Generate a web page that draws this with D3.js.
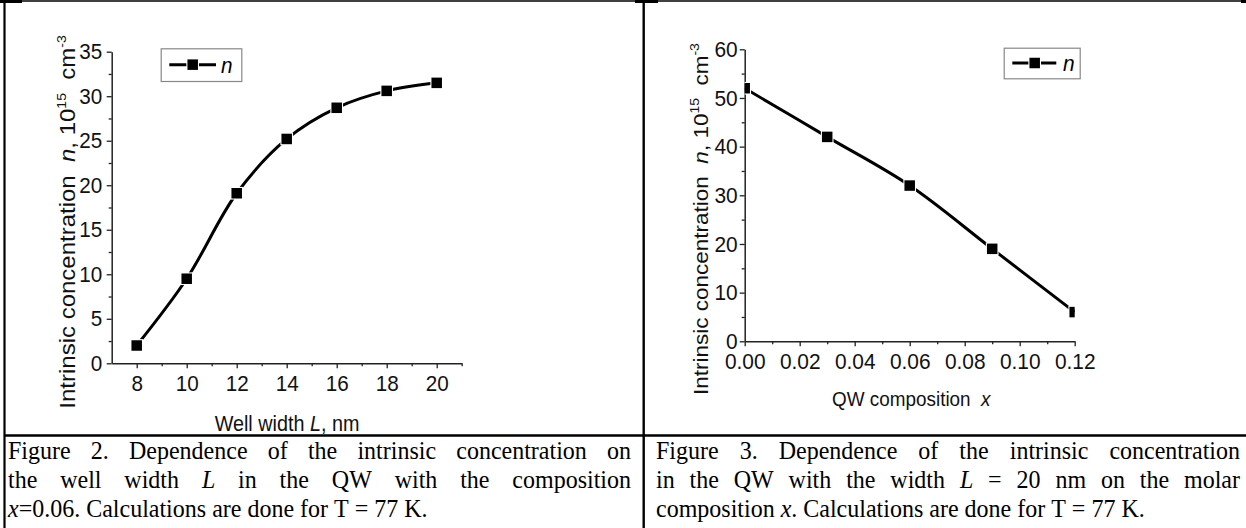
<!DOCTYPE html>
<html>
<head>
<meta charset="utf-8">
<script src="https://cdn.jsdelivr.net/npm/d3@7/dist/d3.min.js"></script>
<style>
  html, body { margin: 0; padding: 0; background: #fff; }
  svg { display: block; }
</style>
</head>
<body>
<script>
// ---------------- DATA ----------------
const wellWidth = [8, 10, 12, 14, 16, 18, 20];
const nVsWidth = [2.0, 9.5, 19.1, 25.2, 28.7, 30.6, 31.5];

const composition = [0.00, 0.03, 0.06, 0.09, 0.12];
const nVsComposition = [52, 42, 32, 19, 6];

const leftXTicks = [8, 10, 12, 14, 16, 18, 20];
const leftXMinor = [9, 11, 13, 15, 17, 19, 21];
const leftYTicks = [0, 5, 10, 15, 20, 25, 30, 35];
const leftYMinor = [2.5, 7.5, 12.5, 17.5, 22.5, 27.5, 32.5];

const rightXTicks = [0, 0.02, 0.04, 0.06, 0.08, 0.10, 0.12];
const rightXMinor = [0.01, 0.03, 0.05, 0.07, 0.09, 0.11];
const rightYTicks = [0, 10, 20, 30, 40, 50, 60];
const rightYMinor = [5, 15, 25, 35, 45, 55];

const seriesName = "n";
const leftXLabel = [["Well width ", false], ["L", true], [", nm", false]];
const rightXLabel = [["QW composition  ", false], ["x", true]];

const leftCaption = [
  "Figure 2. Dependence of the intrinsic concentration on",
  "the well width *L* in the QW with the composition",
  "*x*=0.06. Calculations are done for T = 77 K."
];
const rightCaption = [
  "Figure 3. Dependence of the intrinsic concentration",
  "in the QW with the width *L* = 20 nm on the molar",
  "composition *x*. Calculations are done for T = 77 K."
];

// ---------------- SVG ----------------
const W = 1246, H = 528;
const svg = d3.select("body").append("svg").attr("width", W).attr("height", H);
svg.append("rect").attr("width", W).attr("height", H).attr("fill", "#fff");

const chartFont = "'Liberation Sans', Arial, sans-serif";
const serifFont = "'Liberation Serif', 'Times New Roman', serif";

function drawPanel(cfg) {
  const x = d3.scaleLinear().domain(cfg.xDomain).range(cfg.xRange);
  const y = d3.scaleLinear().domain(cfg.yDomain).range(cfg.yRange);
  const g = svg.append("g");
  const fs = cfg.fontSize, sx = cfg.sx;

  const clipId = "clip" + cfg.id;
  svg.append("clipPath").attr("id", clipId).append("rect")
    .attr("x", cfg.xRange[0]).attr("y", cfg.yRange[1] - 8)
    .attr("width", cfg.xRange[1] - cfg.xRange[0])
    .attr("height", cfg.yRange[0] - cfg.yRange[1] + 8);

  // minor ticks
  const xMinorAxis = d3.axisBottom(x).tickValues(cfg.xMinor).tickSize(3).tickFormat("").tickSizeOuter(0);
  const yMinorAxis = d3.axisLeft(y).tickValues(cfg.yMinor).tickSize(3).tickFormat("").tickSizeOuter(0);
  g.append("g").attr("transform", `translate(0,${cfg.yRange[0]})`).call(xMinorAxis)
    .call(s => s.select(".domain").remove());
  g.append("g").attr("transform", `translate(${cfg.xRange[0]},0)`).call(yMinorAxis)
    .call(s => s.select(".domain").remove());

  // major axes
  const xAxis = d3.axisBottom(x).tickValues(cfg.xTicks).tickSize(5).tickPadding(cfg.xPad)
    .tickSizeOuter(0).tickFormat(cfg.xFormat);
  const yAxis = d3.axisLeft(y).tickValues(cfg.yTicks).tickSize(5).tickPadding(cfg.yPad)
    .tickSizeOuter(0).tickFormat(d3.format("d"));
  const gx = g.append("g").attr("transform", `translate(0,${cfg.yRange[0]})`).call(xAxis);
  const gy = g.append("g").attr("transform", `translate(${cfg.xRange[0]},0)`).call(yAxis);

  g.selectAll("path.domain").attr("stroke", "#222").attr("stroke-width", 1.5);
  g.selectAll(".tick line").attr("stroke", "#222").attr("stroke-width", 1.3);
  g.selectAll(".tick text").attr("fill", "#111")
    .style("font-family", chartFont).style("font-size", fs + "px");
  gx.selectAll(".tick text").attr("transform", `scale(${sx},1)`);
  gy.selectAll(".tick text").attr("x", 0)
    .attr("transform", `translate(${-(5 + cfg.yPad)},0) scale(${sx},1)`);

  // line + markers
  const line = d3.line().x((d, i) => x(cfg.xs[i])).y(d => y(d)).curve(d3.curveCatmullRom.alpha(0.5));
  const plot = g.append("g").attr("clip-path", `url(#${clipId})`);
  plot.append("path").datum(cfg.ys).attr("d", line)
    .attr("fill", "none").attr("stroke", "#000").attr("stroke-width", 3);
  const ms = 10.5;
  plot.selectAll("rect.m").data(cfg.ys).enter().append("rect")
    .attr("x", (d, i) => x(cfg.xs[i]) - ms / 2).attr("y", d => y(d) - ms / 2)
    .attr("width", ms).attr("height", ms)
    .attr("fill", "#000").attr("stroke", "#fff").attr("stroke-width", 2.2)
    .attr("paint-order", "stroke");

  // legend
  const L = cfg.legend;
  g.append("rect").attr("x", L.x0 + 0.5).attr("y", L.y0 + 0.5)
    .attr("width", L.x1 - L.x0).attr("height", L.y1 - L.y0)
    .attr("fill", "#fff").attr("stroke", "#888").attr("stroke-width", 1.2);
  const ly = (L.y0 + L.y1) / 2;
  g.append("line").attr("x1", L.lx0).attr("x2", L.lx1).attr("y1", ly).attr("y2", ly)
    .attr("stroke", "#000").attr("stroke-width", 3);
  g.append("rect").attr("x", L.mx - ms / 2).attr("y", ly - ms / 2).attr("width", ms).attr("height", ms)
    .attr("fill", "#000").attr("stroke", "#fff").attr("stroke-width", 2.2).attr("paint-order", "stroke");
  g.append("text").attr("transform", `translate(${L.tx},${L.ty}) scale(${sx},1)`).text(seriesName)
    .style("font-family", chartFont).style("font-size", fs + "px").style("font-style", "italic");

  // x label
  const xl = g.append("text")
    .attr("transform", `translate(${cfg.xLabelPos[0]},${cfg.xLabelPos[1]}) scale(${cfg.xLabelSx},1)`)
    .attr("text-anchor", "middle").attr("xml:space", "preserve")
    .style("font-family", chartFont).style("font-size", cfg.xLabelSize + "px").attr("fill", "#111");
  cfg.xLabel.forEach(([s, it]) => xl.append("tspan").text(s).style("font-style", it ? "italic" : "normal"));

  // y label
  const yl = g.append("text")
    .attr("transform", `translate(${cfg.yLabelPos[0]},${cfg.yLabelPos[1]}) rotate(-90) scale(1,0.92)`)
    .attr("text-anchor", "middle").attr("xml:space", "preserve")
    .style("font-family", chartFont).style("font-size", cfg.yLabelSize + "px").attr("fill", "#111");
  const sup = Math.round(cfg.yLabelSize * 0.6);
  const sh = cfg.yLabelSize * 0.42;
  yl.append("tspan").text("Intrinsic concentration  ");
  yl.append("tspan").text("n").style("font-style", "italic");
  yl.append("tspan").text(", 10");
  yl.append("tspan").text("15").attr("dy", -sh).style("font-size", sup + "px");
  yl.append("tspan").text("  cm").attr("dy", sh);
  yl.append("tspan").text("-3").attr("dy", -sh).style("font-size", sup + "px");
}

drawPanel({
  id: "L",
  xDomain: [7, 21], xRange: [111.7, 461.7],
  yDomain: [0, 35], yRange: [363.3, 51.7],
  xTicks: leftXTicks, xMinor: leftXMinor, yTicks: leftYTicks, yMinor: leftYMinor,
  xFormat: d3.format("d"), xPad: 7, yPad: 4.5,
  xs: wellWidth, ys: nVsWidth,
  fontSize: 22.5, sx: 0.92,
  legend: { x0: 160.7, x1: 241.3, y0: 48.3, y1: 81, lx0: 169.3, lx1: 216, mx: 192.7, tx: 221, ty: 72.5 },
  xLabel: leftXLabel, xLabelPos: [287, 431], xLabelSize: 22, xLabelSx: 0.9,
  yLabelPos: [75, 222], yLabelSize: 24
});

drawPanel({
  id: "R",
  xDomain: [0, 0.12], xRange: [744.7, 1074.7],
  yDomain: [0, 60], yRange: [341.3, 49.3],
  xTicks: rightXTicks, xMinor: rightXMinor, yTicks: rightYTicks, yMinor: rightYMinor,
  xFormat: d3.format(".2f"), xPad: 7, yPad: 2,
  xs: composition, ys: nVsComposition,
  fontSize: 22, sx: 0.95,
  legend: { x0: 1003.7, x1: 1079.7, y0: 47.7, y1: 78.3, lx0: 1012.3, lx1: 1056.3, mx: 1034.7, tx: 1063, ty: 70.5 },
  xLabel: rightXLabel, xLabelPos: [911.3, 405.5], xLabelSize: 21, xLabelSx: 0.9,
  yLabelPos: [708, 219], yLabelSize: 22.5
});

// ---------------- captions ----------------
const capFs = 25, capSx = 0.96;
const capG = svg.append("g").attr("transform", `scale(${capSx},1)`);
function caption(lines, x0, x1, baselines) {
  lines.forEach((line, i) => {
    const words = line.split(" ");
    const nodes = words.map(w => {
      const t = capG.append("text").attr("y", baselines[i])
        .style("font-family", serifFont).style("font-size", capFs + "px").attr("fill", "#000");
      const parts = w.split("*");
      parts.forEach((p, k) => { if (p.length) t.append("tspan").text(p).style("font-style", k % 2 ? "italic" : "normal"); });
      return t;
    });
    const widths = nodes.map(n => n.node().getComputedTextLength() * capSx);
    const total = d3.sum(widths);
    const justify = i < lines.length - 1;
    const gap = justify ? (x1 - x0 - total) / (words.length - 1) : capFs * 0.25 * capSx;
    let cx = x0;
    nodes.forEach((n, k) => { n.attr("x", cx / capSx); cx += widths[k] + gap; });
  });
}
caption(leftCaption, 8, 631, [459, 488.5, 517.5]);
caption(rightCaption, 656, 1240, [459, 488.5, 517.5]);

// ---------------- table rules ----------------
const rules = svg.append("g").attr("stroke", "#000");
rules.append("line").attr("x1", 0).attr("x2", W).attr("y1", 1).attr("y2", 1).attr("stroke-width", 1.6);
rules.append("line").attr("x1", 4.5).attr("x2", 4.5).attr("y1", 0).attr("y2", H).attr("stroke-width", 2.2);
rules.append("line").attr("x1", 643.7).attr("x2", 643.7).attr("y1", 0).attr("y2", H).attr("stroke-width", 2.4);
rules.append("line").attr("x1", 4).attr("x2", W).attr("y1", 435.5).attr("y2", 435.5).attr("stroke-width", 2.4);
svg.append("rect").attr("x", 0).attr("y", 0).attr("width", 22).attr("height", 3).attr("fill", "#000");
svg.append("rect").attr("x", 635).attr("y", 0).attr("width", 23).attr("height", 3).attr("fill", "#000");
svg.append("rect").attr("x", 1241).attr("y", 0).attr("width", 5).attr("height", 3).attr("fill", "#000");
</script>
</body>
</html>
